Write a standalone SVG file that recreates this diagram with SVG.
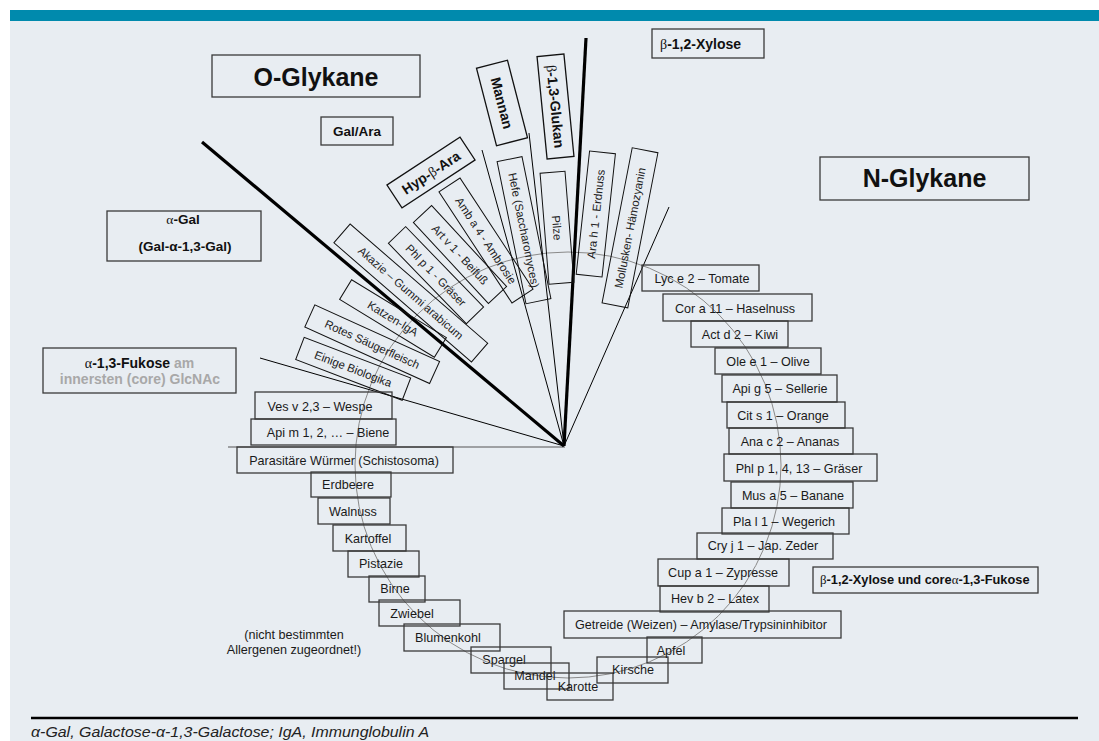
<svg xmlns="http://www.w3.org/2000/svg" width="1099" height="741" viewBox="0 0 1099 741">
<style>
.bx{fill:none;stroke:#3a3a3a;stroke-width:1.3}
.tb{fill:none;stroke:#111;stroke-width:1}
.tbb{fill:none;stroke:#111;stroke-width:1.3}
.l{font-family:"Liberation Sans",Arial,sans-serif;font-size:12.6px;fill:#1a1a1a}
.r{font-family:"Liberation Sans",Arial,sans-serif;font-size:11.5px;fill:#222}
.b{font-family:"Liberation Sans",Arial,sans-serif;font-weight:bold;fill:#111}
.g{font-family:"Liberation Serif","DejaVu Serif",serif;font-weight:normal}
.c{text-anchor:middle}
.gray{fill:#a8a8a8}
.ray{stroke:#000;stroke-width:1;fill:none}
.thick{stroke:#000;stroke-width:3.2;fill:none}
</style>
<rect x="0" y="0" width="1099" height="741" fill="#ffffff"/>
<rect x="10" y="10" width="1089" height="731" fill="#e8edf2"/>
<rect x="10" y="10" width="1089" height="11" fill="#008aad"/>

<g id="connectors">
  <circle cx="568" cy="465" r="213" fill="none" stroke="#8a8a8a" stroke-width="1"/>
  <line x1="228" y1="447" x2="565" y2="447" stroke="#555" stroke-width="1.2"/>
  <line class="ray" x1="260" y1="358" x2="564" y2="446"/>
  <line class="ray" x1="482" y1="150" x2="564" y2="446"/>
  <line class="ray" x1="529" y1="133" x2="564" y2="446"/>
  <line class="ray" x1="669" y1="207" x2="564" y2="446"/>
  <line class="thick" x1="202" y1="142" x2="564" y2="446"/>
  <line class="thick" x1="586" y1="38" x2="564" y2="446"/>
</g>

<g id="n-oglykane"><rect class="bx" x="212" y="55" width="208" height="42"/><text class="b c" x="316" y="86" font-size="25">O-Glykane</text></g>
<g id="n-galara"><rect class="bx" x="321" y="117" width="72" height="28"/><text class="b c" x="357" y="136" font-size="13.5">Gal/Ara</text></g>
<g id="n-agal"><rect class="bx" x="107" y="211" width="154" height="50"/><text class="b c" x="183" y="224" font-size="13.5"><tspan class="g">α</tspan>-Gal</text><text class="b c" x="185" y="251" font-size="13.5">(Gal-α-1,3-Gal)</text></g>
<g id="n-fukose"><rect class="bx" x="43" y="348" width="193" height="45"/><text class="b c" x="139.5" y="368" font-size="14"><tspan class="g">α</tspan>-1,3-Fukose <tspan class="gray">am</tspan></text><text class="b c gray" x="140" y="384" font-size="14">innersten (core) GlcNAc</text></g>
<g id="n-xylose"><rect class="bx" x="652" y="29" width="112" height="29"/><text class="b" x="660" y="49" font-size="14"><tspan class="g">β</tspan>-1,2-Xylose</text></g>
<g id="n-nglykane"><rect class="bx" x="820" y="157" width="209" height="43"/><text class="b c" x="924.5" y="187" font-size="25">N-Glykane</text></g>
<g id="n-xylfuk"><rect class="bx" x="813" y="567" width="225" height="26"/><text class="b" x="820" y="584" font-size="12.8"><tspan class="g">β</tspan>-1,2-Xylose und core<tspan class="g">α</tspan>-1,3-Fukose</text></g>

<g id="n-mannan" transform="translate(502,103) rotate(75.5)"><rect class="tbb" x="-40" y="-16" width="80" height="32"/><text class="b c" font-size="14" dy="0.36em">Mannan</text></g>
<g id="n-glukan" transform="translate(555.5,106.5) rotate(84.4)"><rect class="tbb" x="-51.5" y="-13.5" width="103" height="27"/><text class="b c" font-size="14" dy="0.36em"><tspan class="g">β</tspan>-1,3-Glukan</text></g>
<g id="n-hyp" transform="translate(431,172.5) rotate(-33.3)"><rect class="tbb" x="-43.7" y="-13.7" width="87.4" height="27.4"/><text class="b c" font-size="14" dy="0.36em">Hyp-<tspan class="g">β</tspan>-Ara</text></g>

<g id="n-hefe" transform="translate(524,230.2) rotate(78.5)"><rect class="tb" x="-72.5" y="-12.7" width="145" height="25.4"/><text class="r c" dy="0.36em">Hefe (Saccharomyces)</text></g>
<g id="n-pilze" transform="translate(557,227.8) rotate(85.4)"><rect class="tb" x="-55.7" y="-12.5" width="111.4" height="25"/><text class="r c" dy="0.36em">Pilze</text></g>
<g id="n-ara" transform="translate(595.8,214) rotate(-83.8)"><rect class="tb" x="-62" y="-13" width="124" height="26"/><text class="r c" font-size="12.3" dy="0.36em">Ara h 1 - Erdnuss</text></g>
<g id="n-moll" transform="translate(630,227.8) rotate(-79)"><rect class="tb" x="-79" y="-13.1" width="158" height="26.2"/><text class="r c" font-size="12.3" dy="0.36em">Mollusken- Hämozyanin</text></g>
<g id="n-amb" transform="translate(486,240.5) rotate(56.7)"><rect class="tb" x="-66.5" y="-12.6" width="133" height="25.2"/><text class="r c" dy="0.36em">Amb a 4 - Ambrosie</text></g>
<g id="n-art" transform="translate(460,254.5) rotate(47.2)"><rect class="tb" x="-55.2" y="-12.4" width="110.4" height="24.8"/><text class="r c" dy="0.36em">Art v 1 - Beifuß</text></g>
<g id="n-phl1" transform="translate(436,275.2) rotate(45.9)"><rect class="tb" x="-56" y="-12" width="112" height="24"/><text class="r c" dy="0.36em">Phl p 1 - Gräser</text></g>
<g id="n-akazie" transform="translate(410.8,293) rotate(40.9)"><rect class="tb" x="-91" y="-12.4" width="182" height="24.8"/><text class="r c" dy="0.36em">Akazie – Gummi arabicum</text></g>
<g id="n-katzen" transform="translate(393,318.5) rotate(31.4)"><rect class="tb" x="-55.5" y="-11.5" width="111" height="23"/><text class="r c" dy="0.36em">Katzen-IgA</text></g>
<g id="n-rotes" transform="translate(372.2,344.2) rotate(24.4)"><rect class="tb" x="-68.5" y="-12.1" width="137" height="24.2"/><text class="r c" dy="0.36em">Rotes Säugerfleisch</text></g>
<g id="n-einige" transform="translate(353.2,368.8) rotate(20.9)"><rect class="tb" x="-57" y="-11.9" width="114" height="23.8"/><text class="r c" dy="0.36em">Einige Biologika</text></g>

<g id="n-ves"><rect class="bx" x="255" y="392" width="137" height="27"/><text class="l c" x="320" y="411">Ves v 2,3 – Wespe</text></g>
<g id="n-api"><rect class="bx" x="251" y="419" width="145" height="26"/><text class="l c" x="328" y="437">Api m 1, 2, … – Biene</text></g>
<g id="n-parasit"><rect class="bx" x="237" y="447" width="216" height="26"/><text class="l c" x="344" y="465">Parasitäre Würmer (Schistosoma)</text></g>
<g id="n-erdbeere"><rect class="bx" x="311" y="472" width="80" height="25"/><text class="l c" x="348" y="489">Erdbeere</text></g>
<g id="n-walnuss"><rect class="bx" x="318" y="498" width="72" height="26"/><text class="l c" x="353" y="516">Walnuss</text></g>
<g id="n-kartoffel"><rect class="bx" x="333" y="525" width="73" height="26"/><text class="l c" x="368" y="543">Kartoffel</text></g>
<g id="n-pistazie"><rect class="bx" x="348" y="551" width="71" height="26"/><text class="l c" x="381" y="568">Pistazie</text></g>
<g id="n-birne"><rect class="bx" x="369" y="576" width="56" height="26"/><text class="l c" x="395" y="593">Birne</text></g>
<g id="n-zwiebel"><rect class="bx" x="379" y="600" width="81" height="26"/><text class="l c" x="412" y="618">Zwiebel</text></g>
<g id="n-blumenkohl"><rect class="bx" x="404" y="624" width="96" height="27"/><text class="l c" x="448" y="642">Blumenkohl</text></g>
<g id="n-spargel"><rect class="bx" x="471" y="647" width="80" height="26"/><text class="l c" x="504" y="664">Spargel</text></g>
<g id="n-mandel"><rect class="bx" x="504" y="663" width="65" height="26"/><text class="l c" x="535" y="680">Mandel</text></g>
<g id="n-karotte"><rect class="bx" x="547" y="673" width="66" height="27"/><text class="l c" x="578" y="691">Karotte</text></g>
<g id="n-kirsche"><rect class="bx" x="597" y="657" width="71" height="26"/><text class="l c" x="633" y="674">Kirsche</text></g>
<g id="n-apfel"><rect class="bx" x="647" y="637" width="55" height="26"/><text class="l c" x="671" y="655">Apfel</text></g>
<g id="n-getreide"><rect class="bx" x="564" y="611" width="277" height="27"/><text class="l c" x="701" y="629">Getreide (Weizen) – Amylase/Trypsininhibitor</text></g>
<g id="n-hev"><rect class="bx" x="660" y="586" width="109" height="26"/><text class="l c" x="715" y="603">Hev b 2 – Latex</text></g>
<g id="n-cup"><rect class="bx" x="658" y="559" width="131" height="27"/><text class="l c" x="723" y="577">Cup a 1 – Zypresse</text></g>
<g id="n-cry"><rect class="bx" x="697" y="533" width="136" height="26"/><text class="l c" x="763" y="550">Cry j 1 – Jap. Zeder</text></g>
<g id="n-pla"><rect class="bx" x="722" y="508" width="127" height="26"/><text class="l c" x="784" y="526">Pla l 1 – Wegerich</text></g>
<g id="n-mus"><rect class="bx" x="731" y="482" width="122" height="26"/><text class="l c" x="793" y="500">Mus a 5 – Banane</text></g>
<g id="n-phl4"><rect class="bx" x="724" y="454" width="153" height="27"/><text class="l c" x="799" y="473">Phl p 1, 4, 13 – Gräser</text></g>
<g id="n-ana"><rect class="bx" x="729" y="428" width="124" height="26"/><text class="l c" x="790" y="446">Ana c 2 – Ananas</text></g>
<g id="n-cit"><rect class="bx" x="727" y="402" width="118" height="26"/><text class="l c" x="783" y="420">Cit s 1 – Orange</text></g>
<g id="n-apig"><rect class="bx" x="722" y="375" width="115" height="27"/><text class="l c" x="780" y="393">Api g 5 – Sellerie</text></g>
<g id="n-ole"><rect class="bx" x="715" y="348" width="106" height="26"/><text class="l c" x="768" y="366">Ole e 1 – Olive</text></g>
<g id="n-act"><rect class="bx" x="691" y="321" width="97" height="26"/><text class="l c" x="740" y="339">Act d 2 – Kiwi</text></g>
<g id="n-cor"><rect class="bx" x="663" y="294" width="149" height="27"/><text class="l c" x="735" y="313">Cor a 11 – Haselnuss</text></g>
<g id="n-lyc"><rect class="bx" x="642" y="265" width="117" height="26"/><text class="l c" x="702" y="283">Lyc e 2 – Tomate</text></g>

<g id="n-note"><text class="l c" x="294" y="639">(nicht bestimmten</text><text class="l c" x="294" y="654">Allergenen zugeordnet!)</text></g>

<g id="caption">
  <line x1="31" y1="718" x2="1078" y2="718" stroke="#000" stroke-width="2.5"/>
  <text x="31" y="737" font-family="Liberation Sans, Arial, sans-serif" font-style="italic" font-size="15" fill="#222" textLength="398" lengthAdjust="spacingAndGlyphs">α-Gal, Galactose-α-1,3-Galactose; IgA, Immunglobulin A</text>
</g>
</svg>
